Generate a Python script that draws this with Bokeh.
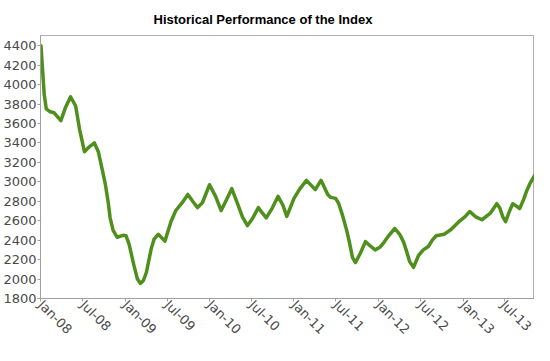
import math
import pandas as pd
from bokeh.plotting import figure
from bokeh.models import FixedTicker, DatetimeTickFormatter, Range1d
from bokeh.embed import file_html
from bokeh.resources import INLINE

dates = [
    "2008-01-03", "2008-01-17", "2008-01-26", "2008-02-12", "2008-02-29", "2008-03-29",
    "2008-04-19", "2008-05-10", "2008-06-01", "2008-06-18", "2008-07-09", "2008-07-30",
    "2008-08-21", "2008-09-07", "2008-09-24", "2008-10-07", "2008-10-20", "2008-10-28",
    "2008-11-10", "2008-11-27", "2008-12-23", "2009-01-05", "2009-01-18", "2009-02-08",
    "2009-02-23", "2009-03-08", "2009-03-21", "2009-04-03", "2009-04-24", "2009-05-06",
    "2009-05-24", "2009-06-22", "2009-07-18", "2009-08-08", "2009-09-03", "2009-09-29",
    "2009-10-20", "2009-11-10", "2009-12-01", "2010-01-01", "2010-01-27", "2010-02-20",
    "2010-03-12", "2010-04-07", "2010-05-02", "2010-05-23", "2010-06-14", "2010-07-05",
    "2010-07-31", "2010-08-17", "2010-09-03", "2010-09-29", "2010-10-24", "2010-11-14",
    "2010-12-01", "2011-01-01", "2011-01-27", "2011-02-24", "2011-04-03", "2011-04-28",
    "2011-05-27", "2011-06-09", "2011-06-30", "2011-07-13", "2011-07-30", "2011-08-17",
    "2011-08-30", "2011-09-11", "2011-09-24", "2011-10-15", "2011-11-06", "2011-11-27",
    "2011-12-18", "2012-01-09", "2012-01-26", "2012-02-16", "2012-03-12", "2012-04-02",
    "2012-04-19", "2012-05-02", "2012-05-15", "2012-06-01", "2012-06-22", "2012-07-13",
    "2012-08-04", "2012-08-21", "2012-09-07", "2012-10-11", "2012-11-10", "2012-12-14",
    "2013-01-09", "2013-01-30", "2013-02-25", "2013-03-24", "2013-04-28", "2013-05-27",
    "2013-06-09", "2013-06-22", "2013-07-04", "2013-07-21", "2013-08-04", "2013-08-20",
    "2013-09-03", "2013-09-20", "2013-10-02", "2013-10-19", "2013-11-06",
]
values = [
    4400, 3900, 3750, 3720, 3710, 3630,
    3770, 3875, 3780, 3540, 3310, 3360,
    3400, 3310, 3125, 2980, 2785, 2630,
    2500, 2430, 2450, 2445, 2360, 2140,
    2000, 1955, 1985, 2070, 2315, 2410,
    2460, 2390, 2590, 2705, 2780, 2870,
    2800, 2735, 2785, 2970, 2850, 2705,
    2800, 2930, 2775, 2640, 2550, 2620,
    2735, 2680, 2630, 2730, 2850, 2760,
    2645, 2830, 2930, 3015, 2920, 3015,
    2870, 2840, 2830, 2780, 2655, 2500,
    2365, 2220, 2170, 2265, 2385, 2340,
    2300, 2330, 2380, 2450, 2520, 2460,
    2380, 2285, 2180, 2120, 2240, 2300,
    2335, 2400, 2445, 2460, 2510, 2590,
    2640, 2695, 2640, 2610, 2675, 2775,
    2730, 2640, 2590, 2700, 2775, 2750,
    2725, 2820, 2900, 2990, 3065,
]
tick_dates = ["2008-01-01", "2008-07-01", "2009-01-01", "2009-07-01", "2010-01-01",
              "2010-07-01", "2011-01-01", "2011-07-01", "2012-01-01", "2012-07-01",
              "2013-01-01", "2013-07-01"]
y_ticks = [1800, 2000, 2200, 2400, 2600, 2800, 3000, 3200, 3400, 3600, 3800, 4000, 4200, 4400]

x = pd.to_datetime(dates)
tick_ms = [pd.Timestamp(d).value / 1e6 for d in tick_dates]

p = figure(width=534, height=345, x_axis_type="datetime", output_backend="svg",
           toolbar_location=None, title="Historical Performance of the Index",
           x_range=Range1d(pd.Timestamp("2008-01-01"), pd.Timestamp("2013-11-06")),
           y_range=Range1d(1800, 4505),
           min_border_right=0, min_border_top=0, min_border_bottom=0)

p.line(x, values, line_color="#4f8f1c", line_width=3.5, line_join="round", line_cap="round")

p.title.text_font = "Liberation Sans"
p.title.text_font_style = "bold"
p.title.text_font_size = "13px"
p.title.align = "left"
p.title.offset = 113
p.title.standoff = 18
p.title.text_color = "#000000"

p.xgrid.visible = False
p.ygrid.visible = False
p.outline_line_color = "#b0b0b0"
p.background_fill_color = "white"
p.border_fill_color = "white"

p.xaxis.ticker = FixedTicker(ticks=tick_ms)
p.xaxis.formatter = DatetimeTickFormatter(days="%b-%y", months="%b-%y", years="%b-%y")
p.xaxis.major_label_orientation = -math.pi / 4
p.yaxis.ticker = FixedTicker(ticks=y_ticks)

for ax in (p.xaxis[0], p.yaxis[0]):
    ax.axis_label = None
    ax.axis_line_color = "#a0a0a0"
    ax.major_tick_line_color = "#a0a0a0"
    ax.major_tick_out = 3
    ax.major_tick_in = 0
    ax.minor_tick_line_color = None
    ax.major_label_text_font = "DejaVu Sans"
    ax.major_label_text_font_size = "13px"
    ax.major_label_text_color = "#4a4a4a"
    ax.major_label_standoff = 1
    ax.axis_label_standoff = 0
    ax.axis_label_text_font_size = "0px"

open("out.html", "w").write(file_html(p, INLINE))
